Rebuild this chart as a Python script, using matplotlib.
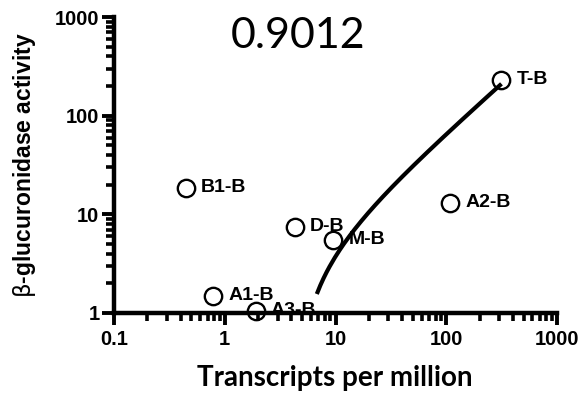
import numpy as np
import matplotlib.pyplot as plt
from matplotlib.ticker import LogLocator, NullFormatter, FixedFormatter, FixedLocator

# promoter constructs: transcripts per million vs GUS activity
names = ['T-B', 'A2-B', 'D-B', 'M-B', 'B1-B', 'A1-B', 'A3-B']
tpm = [315, 109, 4.3, 9.5, 0.444, 0.79, 1.9]
activity = [230, 13.1, 7.5, 5.5, 18.7, 1.5, 1.05]
r_squared = '0.9012'

xticks = [0.1, 1, 10, 100, 1000]
xtick_labels = ['0.1', '1', '10', '100', '1000']
yticks = [1, 10, 100, 1000]
ytick_labels = ['1', '10', '100', '1000']

# straight-line regression; the curve starts at the first point of a
# 150-step grid over the data range that lands above the axis
slope, intercept = np.polyfit(tpm, activity, 1)
grid = np.linspace(min(tpm), max(tpm), 150)
x_start = grid[slope * grid + intercept > 1][0]
xfit = np.linspace(x_start, max(tpm), 600)
yfit = slope * xfit + intercept

plt.rcParams['font.family'] = ['Liberation Sans', 'DejaVu Sans']

fig = plt.figure(figsize=(5.82, 3.93), dpi=100)
ax = fig.add_axes([0.1959, 0.2036, 0.7612, 0.7531])

ax.plot(xfit, yfit, color='black', lw=3, solid_capstyle='butt', zorder=3)
ax.plot(tpm, activity, 'o', ms=12.5, mfc='none', mec='black', mew=1.7,
        clip_on=False, zorder=4)

for name, x, y in zip(names, tpm, activity):
    ax.annotate(name, (x, y), xytext=(11, 0), textcoords='offset points',
                va='center', ha='left', fontsize=14, fontweight='bold',
                zorder=2)

ax.set_xscale('log')
ax.set_yscale('log')
ax.set_xlim(0.1, 1000)
ax.set_ylim(1, 1000)

ax.xaxis.set_major_locator(FixedLocator(xticks))
ax.xaxis.set_major_formatter(FixedFormatter(xtick_labels))
ax.yaxis.set_major_locator(FixedLocator(yticks))
ax.yaxis.set_major_formatter(FixedFormatter(ytick_labels))
ax.xaxis.set_minor_locator(LogLocator(base=10, subs=np.arange(2, 10)))
ax.yaxis.set_minor_locator(LogLocator(base=10, subs=np.arange(2, 10)))
ax.xaxis.set_minor_formatter(NullFormatter())
ax.yaxis.set_minor_formatter(NullFormatter())

for side in ['top', 'right']:
    ax.spines[side].set_visible(False)
for side in ['left', 'bottom']:
    ax.spines[side].set_linewidth(3.2)
    ax.spines[side].set_zorder(5)
    ax.spines[side].set_capstyle('projecting')

ax.tick_params(which='major', length=8.5, width=2.8, direction='out',
               labelsize=14.5, pad=2)
ax.tick_params(which='minor', length=6, width=2.6, direction='out')
ax.tick_params(axis='x', which='major', pad=4)
for lab in ax.get_xticklabels() + ax.get_yticklabels():
    lab.set_fontweight('bold')

ax.set_ylabel(r'$\mathrm{\beta}$-glucuronidase activity', fontsize=16.5,
              fontweight='bold')
ax.yaxis.set_label_coords(-0.201, 0.5)
ax.yaxis.label.set_verticalalignment('center')

ax.set_xlabel('Transcripts per million', fontsize=20, fontweight='bold',
              family=['Lato', 'DejaVu Sans'])
ax.xaxis.set_label_coords(0.498, -0.22)
ax.xaxis.label.set_verticalalignment('center')

ax.text(0.415, 0.896, r_squared, transform=ax.transAxes, ha='center',
        va='baseline', fontsize=31, family=['Lato', 'DejaVu Sans'])

fig.savefig('out.png', dpi=100)
